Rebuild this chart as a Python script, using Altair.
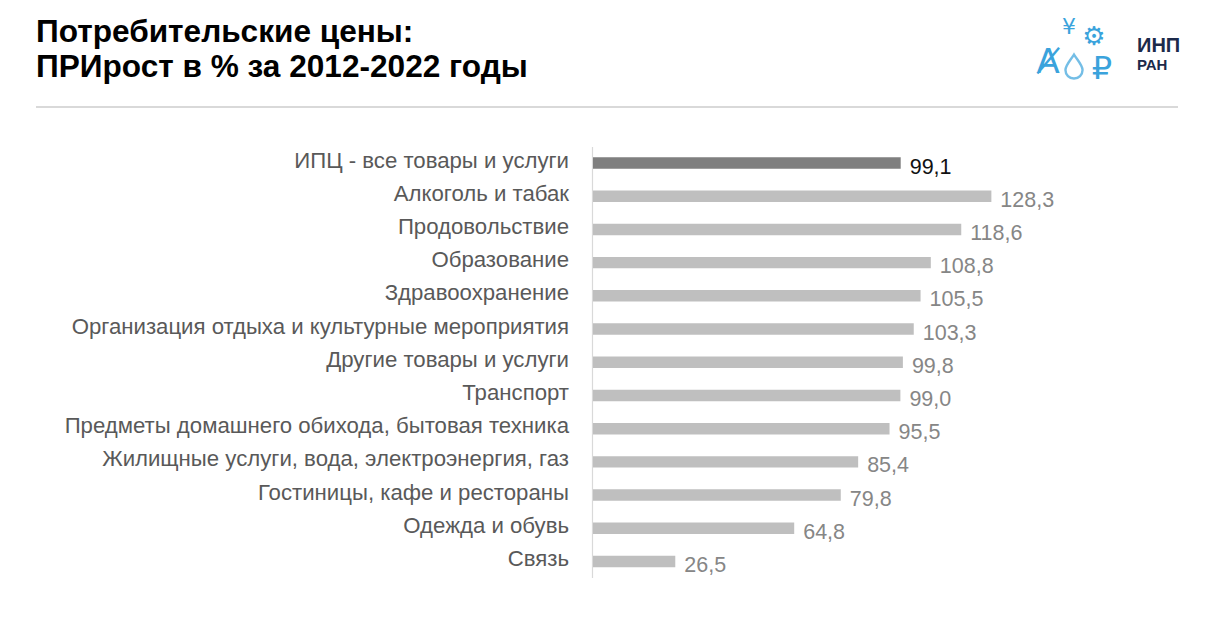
import altair as alt
import pandas as pd

categories = [
    "ИПЦ - все товары и услуги",
    "Алкоголь и табак",
    "Продовольствие",
    "Образование",
    "Здравоохранение",
    "Организация отдыха и культурные мероприятия",
    "Другие товары и услуги",
    "Транспорт",
    "Предметы домашнего обихода, бытовая техника",
    "Жилищные услуги, вода, электроэнергия, газ",
    "Гостиницы, кафе и рестораны",
    "Одежда и обувь",
    "Связь",
]
values = [99.1, 128.3, 118.6, 108.8, 105.5, 103.3, 99.8, 99.0, 95.5, 85.4, 79.8, 64.8, 26.5]
kinds = ["total"] + ["item"] * 12

title_lines = ["Потребительские цены:", "ПРИрост в % за 2012-2022 годы"]
logo_lines = ["ИНП", "РАН"]

FONT = "Liberation Sans"
BLUE = "#3aa3dc"
NAVY = "#1c2a4a"

df = pd.DataFrame({
    "cat": categories,
    "val": values,
    "kind": kinds,
    "lab": [f"{v:.1f}".replace(".", ",") for v in values],
})

xscale = alt.Scale(domain=[0, 130], range=[585, 585 + 130 * 3.105])
yscale = alt.Scale(domain=categories, range=[138.4, 570.1], paddingInner=0.654, paddingOuter=0.327)

base = alt.Chart(df)
is_total = alt.datum.kind == "total"

bars = base.mark_bar().encode(
    y=alt.Y("cat:N", sort=None, scale=yscale, axis=None),
    x=alt.X("val:Q", scale=xscale, axis=None),
    color=alt.condition(is_total, alt.value("#7f7f7f"), alt.value("#bfbfbf")),
)

cat_labels = base.mark_text(align="right", baseline="middle", dy=-2.5, fontSize=22.2, font=FONT, color="#595959").encode(
    y=alt.Y("cat:N", sort=None, scale=yscale, axis=None),
    x=alt.value(561),
    text="cat:N",
)

val_labels = base.mark_text(align="left", baseline="middle", dx=9, dy=4.5, fontSize=21.5, font=FONT).encode(
    y=alt.Y("cat:N", sort=None, scale=yscale, axis=None),
    x=alt.X("val:Q", scale=xscale, axis=None),
    text="lab:N",
    color=alt.condition(is_total, alt.value("#111111"), alt.value("#868686")),
)

one = pd.DataFrame({"a": [0]})

axis_rule = alt.Chart(one).mark_rule(color="#d9d9d9", strokeWidth=1.2).encode(
    x=alt.value(584.5), y=alt.value(139), y2=alt.value(570)
)

header_rule = alt.Chart(one).mark_rule(color="#d9d9d9", strokeWidth=2.2).encode(
    x=alt.value(28), x2=alt.value(1170), y=alt.value(99)
)

title1 = alt.Chart(one).mark_text(align="left", baseline="alphabetic", fontSize=31.6, fontWeight="bold", font=FONT, color="#000000", text=title_lines[0]).encode(
    x=alt.value(28), y=alt.value(34)
)
title2 = alt.Chart(one).mark_text(align="left", baseline="alphabetic", fontSize=31.6, fontWeight="bold", font=FONT, color="#000000", text=title_lines[1]).encode(
    x=alt.value(28), y=alt.value(69)
)

logo1 = alt.Chart(one).mark_text(align="left", baseline="alphabetic", fontSize=20, fontWeight="bold", font=FONT, color=NAVY, text=logo_lines[0]).encode(
    x=alt.value(1129), y=alt.value(44)
)
logo2 = alt.Chart(one).mark_text(align="left", baseline="alphabetic", fontSize=15, fontWeight="bold", font=FONT, color=NAVY, text=logo_lines[1]).encode(
    x=alt.value(1129), y=alt.value(62)
)

icon_gear = alt.Chart(one).mark_text(align="center", baseline="middle", fontSize=26, font="DejaVu Sans", color=BLUE, text="⚙").encode(
    x=alt.value(1086), y=alt.value(29)
)
icon_rub = alt.Chart(one).mark_text(align="center", baseline="middle", fontSize=32, font="DejaVu Sans", color=BLUE, text="₽").encode(
    x=alt.value(1094), y=alt.value(61)
)
icon_a = alt.Chart(one).mark_text(align="center", baseline="middle", fontSize=34, font="DejaVu Sans", color=BLUE, text="Ⱥ").encode(
    x=alt.value(1040), y=alt.value(55)
)
icon_y = alt.Chart(one).mark_text(align="center", baseline="middle", fontSize=22, font="DejaVu Sans", color=BLUE, text="¥").encode(
    x=alt.value(1061), y=alt.value(19)
)
drop_path = "M0,-1 C0.35,-0.45 0.75,-0.05 0.75,0.35 A0.75,0.75 0 1 1 -0.75,0.35 C-0.75,-0.05 -0.35,-0.45 0,-1 Z"
icon_drop = alt.Chart(one).mark_point(shape=drop_path, filled=False, stroke=BLUE, strokeWidth=2.4, size=520).encode(
    x=alt.value(1066), y=alt.value(58)
)

chart = alt.layer(
    header_rule, axis_rule, bars, cat_labels, val_labels,
    title1, title2, logo1, logo2, icon_gear, icon_rub, icon_a, icon_y, icon_drop,
).properties(
    width=1190, height=611, padding=0,
    autosize=alt.AutoSizeParams(type="none"),
    background="#ffffff",
).configure_view(strokeWidth=0)

chart.save("out.html", embed_options={"renderer": "svg", "actions": False})
